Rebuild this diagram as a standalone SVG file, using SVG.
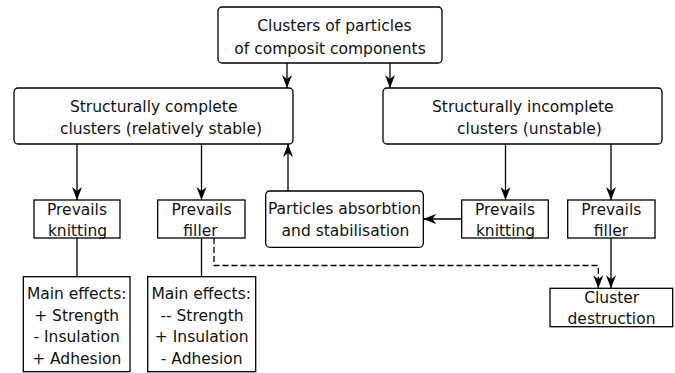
<svg xmlns="http://www.w3.org/2000/svg" width="675" height="373" viewBox="0 0 675 373">
<defs>
<style>
.box{fill:#fff;stroke:#000;stroke-width:1.3}
.lbl{font-family:"DejaVu Sans",sans-serif;font-size:15.5px;fill:#111;text-anchor:middle}
.edge{fill:none;stroke:#000;stroke-width:1.3}
.dash{stroke-dasharray:6 3}
</style>
<marker id="arr" markerUnits="userSpaceOnUse" markerWidth="15" markerHeight="13" refX="13" refY="5.5" orient="auto">
<path d="M0,0.5 L13,5.5 L0,10.5 L4,5.5 Z" fill="#000"/>
</marker>
</defs>
<rect width="675" height="373" fill="#fff"/>
<g id="connectors">
<path class="edge" d="M287,63 L287,88" marker-end="url(#arr)"/>
<path class="edge" d="M390,63 L390,88" marker-end="url(#arr)"/>
<path class="edge" d="M77,144 L77,200" marker-end="url(#arr)"/>
<path class="edge" d="M201.5,144 L201.5,200" marker-end="url(#arr)"/>
<path class="edge" d="M288,191 L288,144" marker-end="url(#arr)"/>
<path class="edge" d="M505.5,144 L505.5,200" marker-end="url(#arr)"/>
<path class="edge" d="M611,144 L611,200" marker-end="url(#arr)"/>
<path class="edge" d="M461.7,219 L423.3,219" marker-end="url(#arr)"/>
<path class="edge" d="M611,238 L611,288.3" marker-end="url(#arr)"/>
<path class="edge" d="M77,238 L77,276.7"/>
<path class="edge" d="M201.5,238 L201.5,276.7"/>
<path class="edge dash" d="M214,238 L214,265.5 L598.3,265.5 L598.3,288.3" marker-end="url(#arr)"/>
</g>
<g id="top">
<rect class="box" x="218" y="7" width="224" height="56" rx="4"/>
<text class="lbl" x="334.5" y="30.5">Clusters of particles</text>
<text class="lbl" x="330" y="53.5">of composit components</text>
</g>
<g id="complete">
<rect class="box" x="14" y="88" width="279" height="56" rx="4"/>
<text class="lbl" x="153.7" y="111.7">Structurally complete</text>
<text class="lbl" x="161" y="134.3">clusters (relatively stable)</text>
</g>
<g id="incomplete">
<rect class="box" x="383" y="88" width="279" height="56" rx="4"/>
<text class="lbl" x="522.8" y="111.7">Structurally incomplete</text>
<text class="lbl" x="529.5" y="134.3">clusters (unstable)</text>
</g>
<g id="knitting-left">
<rect class="box" x="34" y="200" width="86" height="38"/>
<text class="lbl" x="77" y="215">Prevails</text>
<text class="lbl" x="77.5" y="235.5">knitting</text>
</g>
<g id="filler-left">
<rect class="box" x="157.7" y="200" width="87.3" height="38"/>
<text class="lbl" x="201.5" y="215">Prevails</text>
<text class="lbl" x="200.5" y="235.5">filler</text>
</g>
<g id="absorption">
<rect class="box" x="265.7" y="191" width="157.6" height="56.3" rx="4"/>
<text class="lbl" x="344.5" y="214">Particles absorbtion</text>
<text class="lbl" x="345.5" y="235.5">and stabilisation</text>
</g>
<g id="knitting-right">
<rect class="box" x="461.7" y="200" width="86.6" height="38"/>
<text class="lbl" x="505" y="215">Prevails</text>
<text class="lbl" x="505.5" y="235.5">knitting</text>
</g>
<g id="filler-right">
<rect class="box" x="567.7" y="200" width="87.3" height="38"/>
<text class="lbl" x="611.3" y="215">Prevails</text>
<text class="lbl" x="611" y="235.5">filler</text>
</g>
<g id="destruction">
<rect class="box" x="550" y="288.3" width="122.7" height="38.4"/>
<text class="lbl" x="611.7" y="303.3">Cluster</text>
<text class="lbl" x="611.5" y="324.3">destruction</text>
</g>
<g id="effects-left">
<rect class="box" x="23.3" y="276.7" width="106.7" height="95"/>
<text class="lbl" x="76.7" y="299">Main effects:</text>
<text class="lbl" x="76.7" y="320.7">+ Strength</text>
<text class="lbl" x="76.7" y="342.3">- Insulation</text>
<text class="lbl" x="76.7" y="364">+ Adhesion</text>
</g>
<g id="effects-right">
<rect class="box" x="147.7" y="276.7" width="108" height="95"/>
<text class="lbl" x="201.2" y="299">Main effects:</text>
<text class="lbl" x="202" y="320.7">-- Strength</text>
<text class="lbl" x="201.7" y="342.3">+ Insulation</text>
<text class="lbl" x="201.7" y="364">- Adhesion</text>
</g>
</svg>
